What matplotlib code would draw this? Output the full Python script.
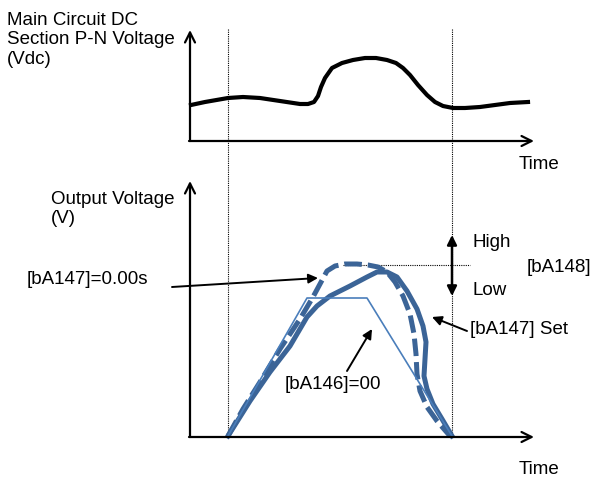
import matplotlib.pyplot as plt

plt.rcParams['font.family'] = ['Liberation Sans', 'DejaVu Sans']

# Diagram coordinates (x to the right, y downward)
# Top panel: main circuit DC section P-N voltage
vdc_t = [191, 205, 228, 243, 260, 280, 300, 308, 314, 318, 321, 325, 332, 342, 353,
         365, 376, 387, 396, 403, 410, 418, 427, 435, 443, 453, 465, 480, 495, 510, 528]
vdc_v = [106, 103, 99, 98, 99, 102, 105, 105, 103, 97, 88, 79, 69, 64, 61,
         59, 59, 61, 64, 69, 76, 86, 96, 103, 107, 109, 109, 108, 106, 104, 103]

# Bottom panel: output voltage
set_t = [228, 250, 270, 290, 307, 317, 330, 350, 367, 377, 387, 397, 407, 417, 423,
         426, 425, 424, 427, 433, 442, 452]
set_v = [437, 402, 373, 347, 318, 307, 297, 287, 278, 273, 273, 278, 292, 310, 327,
         343, 360, 377, 390, 405, 420, 437]

zero_t = [228, 243, 260, 280, 300, 313, 320, 327, 335, 345, 357, 368, 378, 387, 395,
          403, 410, 414, 416, 417, 420, 427, 437, 450]
zero_v = [437, 410, 383, 350, 320, 298, 285, 272, 267, 265, 265, 266, 268, 273, 283,
          297, 315, 335, 355, 375, 392, 408, 422, 437]

off_t = [228, 307, 367, 452]
off_v = [437, 299, 299, 437]

marker_t = [228, 452]
top_axis_y = 142
bot_axis_y = 438
axis_x = 190

thick_blue = '#3b6497'
thin_blue = '#4a7ebb'

fig = plt.figure(figsize=(5.93, 4.81), dpi=100)
ax = fig.add_axes([0, 0, 1, 1])
ax.set_xlim(0, 593)
ax.set_ylim(481, 0)
ax.axis('off')

axis_arrow = dict(arrowstyle='->', lw=1.6, color='black', mutation_scale=18,
                  shrinkA=0, shrinkB=0)

# Axes
ax.annotate('', xy=(axis_x, 31), xytext=(axis_x, top_axis_y), arrowprops=axis_arrow)
ax.annotate('', xy=(534, top_axis_y), xytext=(axis_x - 1, top_axis_y), arrowprops=axis_arrow)
ax.annotate('', xy=(axis_x, 182), xytext=(axis_x, bot_axis_y), arrowprops=axis_arrow)
ax.annotate('', xy=(534, bot_axis_y), xytext=(axis_x - 1, bot_axis_y), arrowprops=axis_arrow)

# Dotted timing markers
for t in marker_t:
    ax.plot([t, t], [30, bot_axis_y], color='black', lw=0.8, linestyle=(0, (1, 1)))
ax.plot([343, 470], [266, 266], color='black', lw=0.8, linestyle=(0, (1, 1)))

# Curves
ax.plot(vdc_t, vdc_v, color='black', lw=3.0, solid_joinstyle='round')
ax.plot(zero_t, zero_v, color=thick_blue, lw=3.6, linestyle=(0, (3.5, 1.2)),
        dash_joinstyle='round')
ax.plot(set_t, set_v, color=thick_blue, lw=3.6, solid_joinstyle='round')
ax.plot(off_t, off_v, color=thin_blue, lw=1.2)

# Double arrow High/Low
ax.annotate('', xy=(452, 236), xytext=(452, 297),
            arrowprops=dict(arrowstyle='<|-|>', lw=1.8, color='black',
                            mutation_scale=14, shrinkA=0, shrinkB=0))

# Pointer arrows
pointer = dict(arrowstyle='-|>', lw=1.4, color='black', mutation_scale=14,
               shrinkA=0, shrinkB=0)
ax.annotate('', xy=(318, 279), xytext=(172, 288), arrowprops=pointer)
ax.annotate('', xy=(372, 330), xytext=(347, 372), arrowprops=pointer)
ax.annotate('', xy=(432, 318), xytext=(467, 332), arrowprops=pointer)

fs = 13.5
ax.text(7, 40, 'Main Circuit DC\nSection P-N Voltage\n(Vdc)', fontsize=fs,
        ha='left', va='center', linespacing=1.2)
ax.text(519, 165, 'Time', fontsize=fs, ha='left', va='center')
ax.text(51, 209, 'Output Voltage\n(V)', fontsize=fs, ha='left', va='center',
        linespacing=1.2)
ax.text(519, 470, 'Time', fontsize=fs, ha='left', va='center')
ax.text(27, 280, '[bA147]=0.00s', fontsize=fs, ha='left', va='center')
ax.text(473, 243, 'High', fontsize=fs, ha='left', va='center')
ax.text(473, 291, 'Low', fontsize=fs, ha='left', va='center')
ax.text(527, 268, '[bA148]', fontsize=fs, ha='left', va='center')
ax.text(470, 330, '[bA147] Set', fontsize=fs, ha='left', va='center')
ax.text(333, 385, '[bA146]=00', fontsize=fs, ha='center', va='center')

fig.savefig('out.png', dpi=100)
